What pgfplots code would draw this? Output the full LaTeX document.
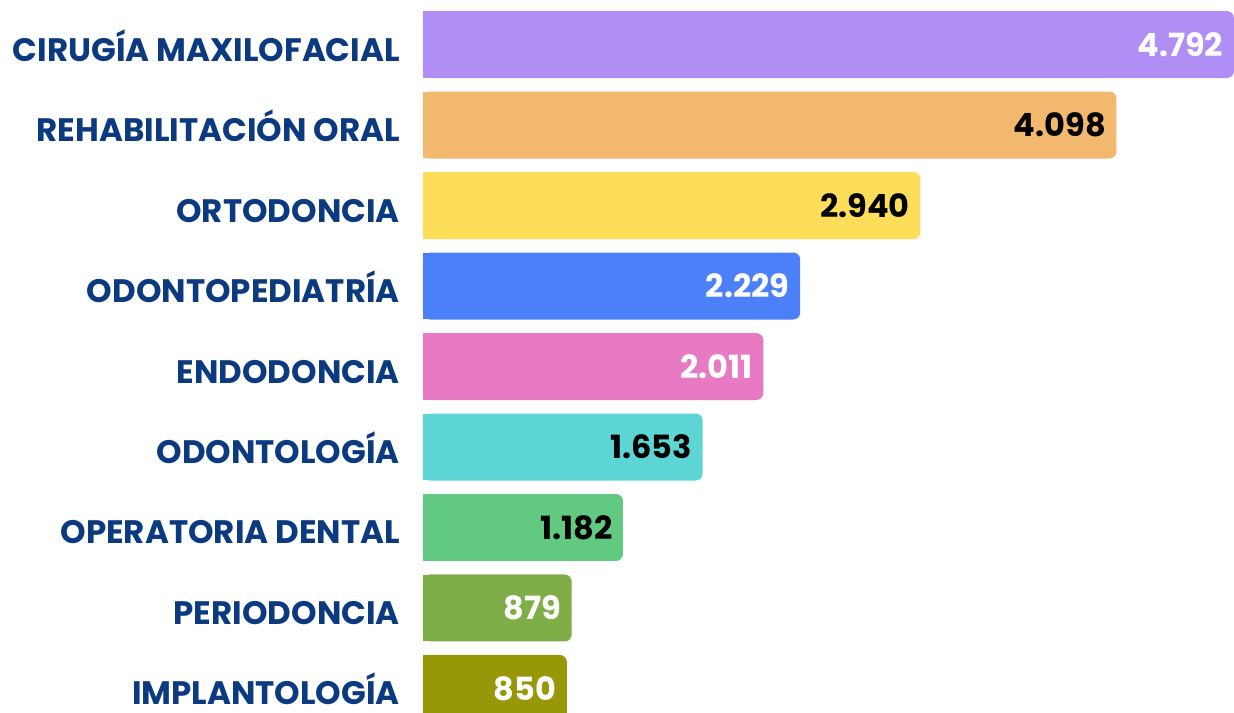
\documentclass[border=0pt]{standalone}
\usepackage{fontspec}
\setmainfont{Poppins}
\usepackage{pgfplots}
\pgfplotsset{compat=1.18}
\definecolor{labblue}{HTML}{0B3A80}
\definecolor{c0}{HTML}{AF8EF5}
\definecolor{c1}{HTML}{F2B86E}
\definecolor{c2}{HTML}{FEDD5A}
\definecolor{c3}{HTML}{4C80F8}
\definecolor{c4}{HTML}{E87AC4}
\definecolor{c5}{HTML}{5CD5D4}
\definecolor{c6}{HTML}{62CA80}
\definecolor{c7}{HTML}{7FAD48}
\definecolor{c8}{HTML}{979708}
\begin{document}
\begin{tikzpicture}
\begin{axis}[
  at={(0,0)}, anchor=north west,
  scale only axis, width=811pt, height=713pt,
  xmin=0, xmax=4792, ymin=-0.553, ymax=8.304, y dir=reverse,
  axis line style={draw=none},
  xtick=\empty,
  ytick={0,1,2,3,4,5,6,7,8},
  yticklabels={CIRUGÍA MAXILOFACIAL, REHABILITACIÓN ORAL, ORTODONCIA, ODONTOPEDIATRÍA, ENDODONCIA, ODONTOLOGÍA, OPERATORIA DENTAL, PERIODONCIA, IMPLANTOLOGÍA},
  major tick length=0pt,
  yticklabel style={font=\bfseries\fontsize{32.5}{32.5}\selectfont, text=labblue, inner sep=0pt, anchor=base east, xshift=-23pt, yshift=-16.5pt},
  xbar, bar width=67pt, bar shift=0pt,
  /pgf/number format/assume math mode=true,
  /pgf/number format/1000 sep={.},
  val/.style={fill=#1, draw=none, rounded corners=7pt,
    nodes near coords, point meta=x,
    every node near coord/.append style={anchor=base east, xshift=-10.5pt, yshift=-11.8pt, inner sep=0pt,
      font=\bfseries\fontsize{32}{32}\selectfont}},
  cover/.style={fill=#1, draw=none, bar width=66.4pt},
]
\addplot[val=c0, every node near coord/.append style={text=white}] coordinates {(4792,0)};
\addplot[cover=c0] coordinates {(100,0)};
\addplot[val=c1, every node near coord/.append style={text=black}] coordinates {(4098,1)};
\addplot[cover=c1] coordinates {(100,1)};
\addplot[val=c2, every node near coord/.append style={text=black}] coordinates {(2940,2)};
\addplot[cover=c2] coordinates {(100,2)};
\addplot[val=c3, every node near coord/.append style={text=white}] coordinates {(2229,3)};
\addplot[cover=c3] coordinates {(100,3)};
\addplot[val=c4, every node near coord/.append style={text=white}] coordinates {(2011,4)};
\addplot[cover=c4] coordinates {(100,4)};
\addplot[val=c5, every node near coord/.append style={text=black}] coordinates {(1653,5)};
\addplot[cover=c5] coordinates {(100,5)};
\addplot[val=c6, every node near coord/.append style={text=black}] coordinates {(1182,6)};
\addplot[cover=c6] coordinates {(100,6)};
\addplot[val=c7, every node near coord/.append style={text=white}] coordinates {(879,7)};
\addplot[cover=c7] coordinates {(100,7)};
\addplot[val=c8, every node near coord/.append style={text=white}] coordinates {(850,8)};
\addplot[cover=c8] coordinates {(100,8)};
\end{axis}
\path[use as bounding box] (-423pt,0pt) rectangle (811pt,-713pt);
\end{tikzpicture}
\end{document}
